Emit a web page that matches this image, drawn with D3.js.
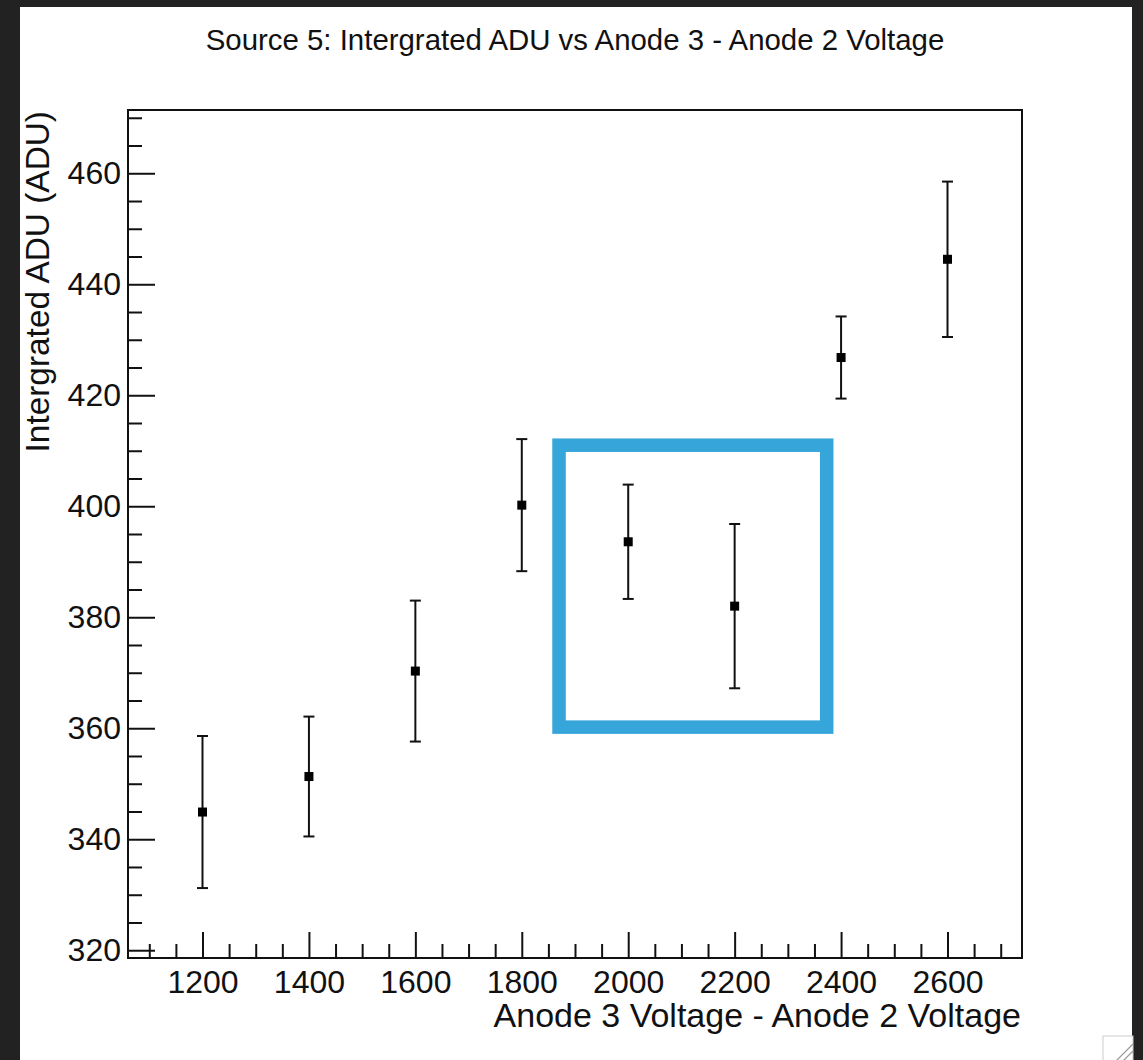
<!DOCTYPE html>
<html>
<head>
<meta charset="utf-8">
<script src="https://cdn.jsdelivr.net/npm/d3@7"></script>
<style>
  html, body { margin: 0; padding: 0; background: #222222; }
  svg { display: block; }
  text { font-family: "Liberation Sans", Arial, Helvetica, sans-serif; fill: #111; }
</style>
</head>
<body>
<div id="chart"></div>
<script>
// data
var voltages = [1200, 1400, 1600, 1800, 2000, 2200, 2400, 2600];
var adu      = [344.9, 351.3, 370.3, 400.2, 393.6, 382.0, 426.8, 444.5];
var aduErr   = [13.7, 10.8, 12.7, 11.9, 10.3, 14.8, 7.4, 14.0];

var xTicks = [1200, 1400, 1600, 1800, 2000, 2200, 2400, 2600];
var yTicks = [320, 340, 360, 380, 400, 420, 440, 460];

// highlighted region (data coordinates)
var boxX = [1870, 2373];
var boxY = [360.2, 411.0];

var titleText = "Source 5: Intergrated ADU vs Anode 3 - Anode 2 Voltage";
var xTitle = "Anode 3 Voltage - Anode 2 Voltage";
var yTitle = "Intergrated ADU (ADU)";

var W = 1143, H = 1060;
var margin = {top: 110, right: 121, bottom: 102, left: 128};

var svg = d3.select("#chart").append("svg")
    .attr("width", W)
    .attr("height", H);

// white canvas on the dark window
svg.append("rect")
    .attr("x", 20).attr("y", 7)
    .attr("width", 1112).attr("height", H - 7)
    .attr("fill", "#ffffff");

var x = d3.scaleLinear()
    .domain([1060, 2740])
    .range([margin.left, W - margin.right]);

var y = d3.scaleLinear()
    .domain([318.6, 471.4])
    .range([H - margin.bottom, margin.top]);

// minor ticks
var xMinor = d3.range(1100, 2740, 50).filter(function(v){ return v % 200 != 0; });
var yMinor = d3.range(320, 471.4, 5).filter(function(v){ return v % 20 != 0; });

function styleAxis(g) {
    g.selectAll(".domain").remove();
    g.selectAll("line").attr("stroke", "#111").attr("stroke-width", 2);
    g.selectAll("text").style("font-size", "32px").attr("fill", "#111");
}

var xpos = "translate(0," + (H - margin.bottom) + ")";
svg.append("g").attr("transform", xpos)
    .call(d3.axisBottom(x).tickValues(xMinor).tickSizeInner(-14).tickSizeOuter(0).tickFormat(""))
    .call(styleAxis);
svg.append("g").attr("transform", xpos)
    .call(d3.axisBottom(x).tickValues(xTicks).tickSizeInner(-26).tickSizeOuter(0).tickPadding(12).tickFormat(d3.format("d")))
    .call(styleAxis);

var ypos = "translate(" + margin.left + ",0)";
svg.append("g").attr("transform", ypos)
    .call(d3.axisLeft(y).tickValues(yMinor).tickSizeInner(-14).tickSizeOuter(0).tickFormat(""))
    .call(styleAxis);
svg.append("g").attr("transform", ypos)
    .call(d3.axisLeft(y).tickValues(yTicks).tickSizeInner(-27).tickSizeOuter(0).tickPadding(7).tickFormat(d3.format("d")))
    .call(styleAxis);

// frame
svg.append("rect")
    .attr("x", x.range()[0])
    .attr("y", y.range()[1])
    .attr("width", x.range()[1] - x.range()[0])
    .attr("height", y.range()[0] - y.range()[1])
    .attr("fill", "none")
    .attr("stroke", "#111")
    .attr("stroke-width", 2);

// error bars
var pts = voltages.map(function(v, i){ return {x: v, y: adu[i], e: aduErr[i]}; });

var bars = svg.append("g").selectAll("g").data(pts).enter().append("g");
bars.append("line")
    .attr("x1", function(d){ return x(d.x); })
    .attr("x2", function(d){ return x(d.x); })
    .attr("y1", function(d){ return y(d.y + d.e); })
    .attr("y2", function(d){ return y(d.y - d.e); })
    .attr("stroke", "#111").attr("stroke-width", 2);
bars.append("line")
    .attr("x1", function(d){ return x(d.x) - 5.5; })
    .attr("x2", function(d){ return x(d.x) + 5.5; })
    .attr("y1", function(d){ return y(d.y + d.e); })
    .attr("y2", function(d){ return y(d.y + d.e); })
    .attr("stroke", "#111").attr("stroke-width", 2);
bars.append("line")
    .attr("x1", function(d){ return x(d.x) - 5.5; })
    .attr("x2", function(d){ return x(d.x) + 5.5; })
    .attr("y1", function(d){ return y(d.y - d.e); })
    .attr("y2", function(d){ return y(d.y - d.e); })
    .attr("stroke", "#111").attr("stroke-width", 2);
bars.append("rect")
    .attr("x", function(d){ return x(d.x) - 4.5; })
    .attr("y", function(d){ return y(d.y) - 4.5; })
    .attr("width", 9).attr("height", 9)
    .attr("fill", "#000");

// blue highlight box
svg.append("rect")
    .attr("x", x(boxX[0]))
    .attr("y", y(boxY[1]))
    .attr("width", x(boxX[1]) - x(boxX[0]))
    .attr("height", y(boxY[0]) - y(boxY[1]))
    .attr("fill", "none")
    .attr("stroke", "#36a5da")
    .attr("stroke-width", 13.5);

// titles
svg.append("text")
    .attr("x", 575).attr("y", 50)
    .attr("text-anchor", "middle")
    .style("font-size", "29.4px")
    .text(titleText);

svg.append("text")
    .attr("x", x.range()[1] - 1).attr("y", 1027)
    .attr("text-anchor", "end")
    .style("font-size", "34px")
    .text(xTitle);

svg.append("text")
    .attr("transform", "translate(49," + (margin.top + 1) + ") rotate(-90)")
    .attr("text-anchor", "end")
    .style("font-size", "33.4px")
    .text(yTitle);

// resize grip in the corner
var grip = svg.append("g").attr("transform", "translate(1103,1036)");
grip.append("rect").attr("width", 30).attr("height", 26)
    .attr("fill", "#fff").attr("stroke", "#ccc").attr("stroke-width", 1);
grip.append("line").attr("x1", 12).attr("y1", 26).attr("x2", 30).attr("y2", 8)
    .attr("stroke", "#999").attr("stroke-width", 1.2);
grip.append("line").attr("x1", 19).attr("y1", 26).attr("x2", 30).attr("y2", 15)
    .attr("stroke", "#999").attr("stroke-width", 1.2);
</script>
</body>
</html>
